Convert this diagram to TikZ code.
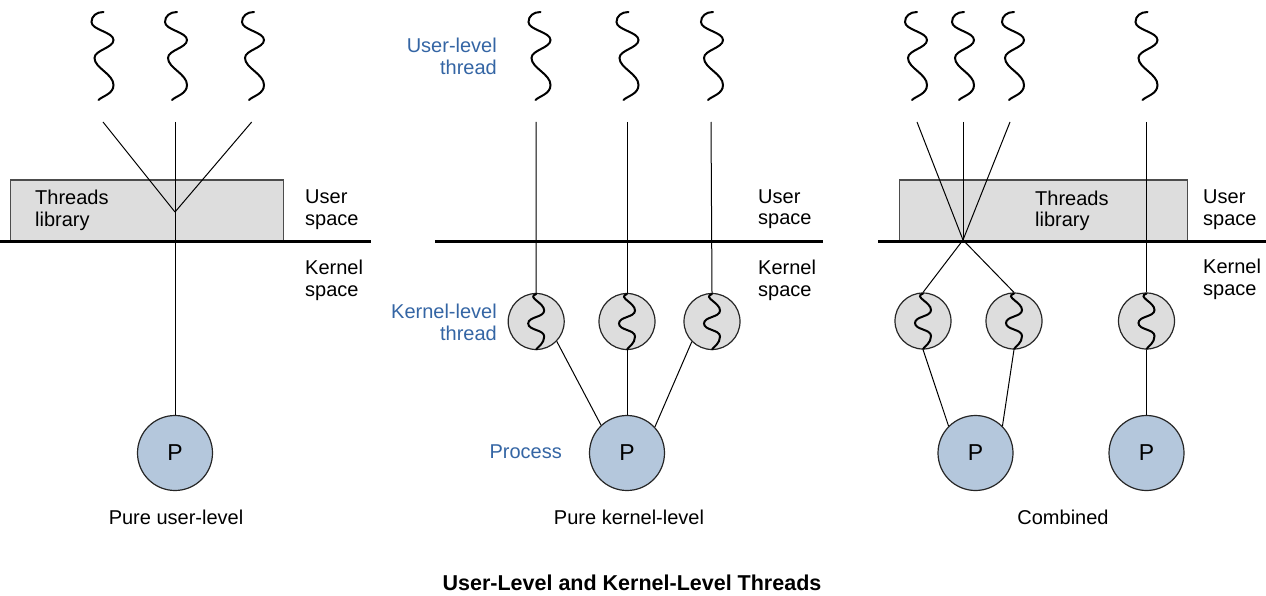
\documentclass[tikz,border=0pt]{standalone}
\usepackage{fontspec}
\setmainfont{Liberation Sans}
\definecolor{boxgray}{HTML}{DDDDDD}
\definecolor{pblue}{HTML}{B4C7DC}
\definecolor{lblue}{HTML}{3465A4}
\tikzset{
  conn/.style={line width=1pt, draw=black},
  wavy/.style={line width=2pt, line cap=round, draw=black},
  sepline/.style={line width=3pt, draw=black},
  lib/.style={draw=black!70, fill=boxgray, line width=1.2pt, inner sep=0, anchor=north west},
  kthread/.style={circle, draw=black!85, fill=boxgray, line width=1.2pt, minimum size=56pt, inner sep=0},
  proc/.style={circle, draw=black!85, fill=pblue, line width=1.2pt, minimum size=75pt, inner sep=0, font=\fontsize{23}{23}\selectfont},
  lbl/.style={font=\fontsize{20}{21.5}\selectfont, inner sep=0, align=left, anchor=north west},
  blbl/.style={lbl, text=lblue, align=right, anchor=north east},
  paneltitle/.style={font=\fontsize{20}{21.5}\selectfont, inner sep=0, anchor=base},
  maintitle/.style={font=\fontsize{21.5}{24}\selectfont\bfseries, inner sep=0, anchor=base},
  pics/uthread/.style={code={
    \draw[wavy] (1,12) .. controls (-6,12) and (-11,16) .. (-11,22)
      .. controls (-11,30) and (11,32) .. (11,40)
      .. controls (11,48) and (-8,50) .. (-8,58)
      .. controls (-8,68) and (11,74) .. (11,85)
      .. controls (11,94) and (0,96) .. (-4,100);
  }},
  pics/kwave/.style={code={
    \draw[wavy] (0,-27.5) .. controls (-10,-24) and (8,-19) .. (8,-11)
      .. controls (8,-4) and (-8,-5) .. (-8,2)
      .. controls (-8,9) and (8,8) .. (8,15)
      .. controls (8,22) and (2,25) .. (0,28);
  }}
}
\begin{document}
\begin{tikzpicture}[x=1pt, y=-1pt]
\useasboundingbox (0,0) rectangle (1266,596);

% ---------------- Left panel: pure user-level ----------------
\pic at (102.5,0) {uthread};
\pic at (176,0) {uthread};
\pic at (253,0) {uthread};
\coordinate (a1) at (103,122);
\coordinate (a2) at (175,122);
\coordinate (a3) at (251.7,122);
\node[lib, minimum width=272.5pt, minimum height=60pt] (lib1) at (10,179.5) {};
\node[lbl] (tl1) at (35,190) {Threads\\library};
\draw[sepline] (0,241) -- (370.5,241);
\node[lbl] (us1) at (305,190) {User\\space};
\node[lbl] (ks1) at (305,260) {Kernel\\space};
\coordinate (v1) at (175,212);
\node[proc] (P1) at (175,453) {P};
\draw[conn] (a1) -- (v1);
\draw[conn] (a3) -- (v1);
\draw[conn] (a2) -- (P1.north);
\node[paneltitle] (c1) at (176,524) {Pure user-level};

% ---------------- Middle panel: pure kernel-level ----------------
\pic at (539.5,0) {uthread};
\pic at (627.5,0) {uthread};
\pic at (712,0) {uthread};
\coordinate (b1) at (536,122);
\coordinate (b2) at (627,122);
\coordinate (b3) at (711,122);
\node[blbl] (ult) at (497,38) {User-level\\thread};
\draw[sepline] (435,241) -- (823,241);
\node[lbl] (us2) at (758,189.5) {User\\space};
\node[lbl] (ks2) at (758,260) {Kernel\\space};
\node[blbl] (klt) at (497,304) {Kernel-level\\thread};
\node[kthread] (k1) at (536.2,321.5) {};
\node[kthread] (k2) at (627,321.5) {};
\node[kthread] (k3) at (712,321.5) {};
\pic[shift={(k1.center)}] {kwave};
\pic[shift={(k2.center)}] {kwave};
\pic[shift={(k3.center)}] {kwave};
\node[proc] (P2) at (627,453) {P};
\node[font=\fontsize{20}{21.5}\selectfont, text=lblue, inner sep=0, anchor=base east] (proc) at (562,458.3) {Process};
\draw[conn] (b1) -- (k1.north);
\draw[conn] (b2) -- (k2.north);
\draw[conn] (b3) -- (k3.north);
\draw[conn] (k1.-44) -- (P2.133);
\draw[conn] (k2.south) -- (P2.north);
\draw[conn] (k3.-135) -- (P2.43);
\node[paneltitle] (c2) at (629,524) {Pure kernel-level};

% ---------------- Right panel: combined ----------------
\pic at (916,0) {uthread};
\pic at (963,0) {uthread};
\pic at (1013,0) {uthread};
\pic at (1146.5,0) {uthread};
\coordinate (d1) at (917,122);
\coordinate (d2) at (963,122);
\coordinate (d3) at (1010,122);
\coordinate (d4) at (1146.5,122);
\node[lib, minimum width=288.5pt, minimum height=60.5pt] (lib2) at (898.5,179.5) {};
\node[lbl] (tl2) at (1035,190.5) {Threads\\library};
\draw[sepline] (878,241) -- (1266,241);
\node[lbl] (us3) at (1203,190) {User\\space};
\node[lbl] (ks3) at (1203,259) {Kernel\\space};
\coordinate (x1) at (963,240);
\node[kthread] (k4) at (923,321) {};
\node[kthread] (k5) at (1014,321) {};
\node[kthread] (k6) at (1146.5,321) {};
\pic[shift={(k4.center)}] {kwave};
\pic[shift={(k5.center)}] {kwave};
\pic[shift={(k6.center)}] {kwave};
\node[proc] (P3) at (975.5,453) {P};
\node[proc] (P4) at (1146.5,453) {P};
\draw[conn] (d1) -- (x1);
\draw[conn] (d2) -- (x1);
\draw[conn] (d3) -- (x1);
\draw[conn] (x1) -- (k4.north);
\draw[conn] (x1) -- (k5.north);
\draw[conn] (d4) -- (k6.north);
\draw[conn] (k4.south) -- (P3.135);
\draw[conn] (k5.south) -- (P3.45);
\draw[conn] (k6.south) -- (P4.north);
\node[paneltitle] (c3) at (1063,524) {Combined};

% ---------------- Title ----------------
\node[maintitle] (title) at (632,590) {User-Level and Kernel-Level Threads};
\end{tikzpicture}
\end{document}
